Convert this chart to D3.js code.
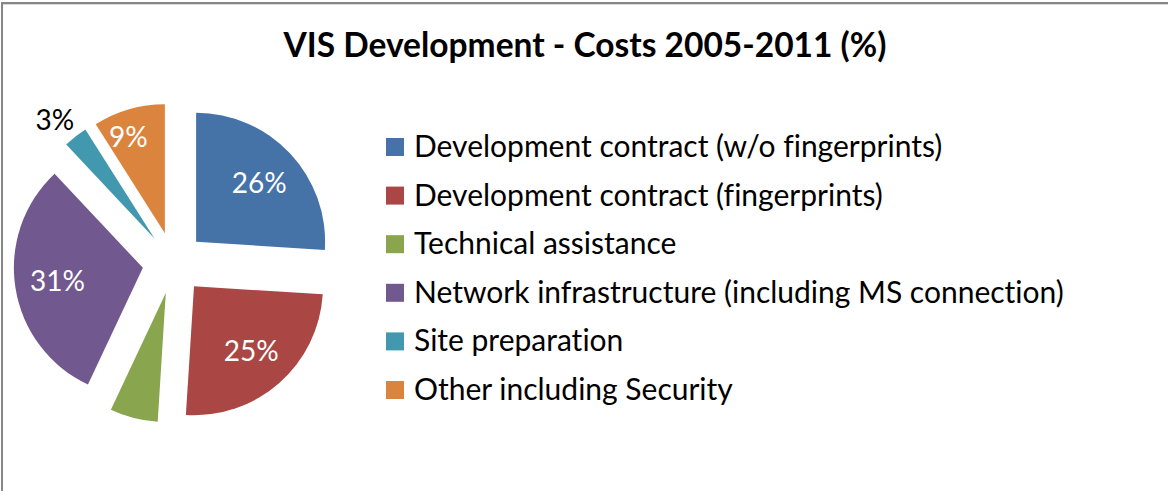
<!DOCTYPE html>
<html>
<head>
<meta charset="utf-8">
<script src="https://cdn.jsdelivr.net/npm/d3@7"></script>
<style>
  html, body { margin: 0; padding: 0; background: #fff; }
  svg { display: block; }
  text { font-variant-ligatures: none; font-feature-settings: "liga" 0, "dlig" 0; }
</style>
</head>
<body>
<svg id="chart" width="1168" height="491"></svg>
<script>
const title = "VIS Development - Costs 2005-2011 (%)";
const categories = [
  "Development contract (w/o fingerprints)",
  "Development contract (fingerprints)",
  "Technical assistance",
  "Network infrastructure (including MS connection)",
  "Site preparation",
  "Other including Security"
];
const values = [26, 25, 6, 31, 3, 9];
const shownLabels = ["26%", "25%", "", "31%", "3%", "9%"];
const colors = ["#4572A7", "#AA4643", "#89A54E", "#71588F", "#4198AF", "#DB843D"];

const svg = d3.select("#chart");
const W = 1168, H = 491;
const FONT = "Lato, 'Open Sans', sans-serif";

// frame (cropped chart area border)
svg.append("rect").attr("x", 2).attr("y", 3).attr("width", W + 10).attr("height", H + 10)
  .attr("fill", "#fff").attr("stroke", "#868686").attr("stroke-width", 2);
svg.append("line").attr("x1", 3).attr("x2", W).attr("y1", 4.5).attr("y2", 4.5)
  .attr("stroke", "#d9d9d9").attr("stroke-width", 1);

// title
svg.append("text")
  .attr("x", 585).attr("y", 57)
  .attr("text-anchor", "middle")
  .attr("font-family", FONT)
  .attr("font-weight", "bold")
  .attr("font-size", 33.5)
  .attr("fill", "#000")
  .text(title);

// pie
const cx = 173.5, cy = 263, R = 129, explode = 31;
const pie = d3.pie().sort(null).startAngle(0).endAngle(2 * Math.PI);
const arcs = pie(values);
const arc = d3.arc().innerRadius(0).outerRadius(R);

const g = svg.append("g").attr("transform", `translate(${cx},${cy})`);
const slices = g.selectAll("g.slice").data(arcs).join("g")
  .attr("class", "slice")
  .attr("transform", d => {
    const m = (d.startAngle + d.endAngle) / 2;
    return `translate(${Math.sin(m) * explode},${-Math.cos(m) * explode})`;
  });

slices.append("path")
  .attr("d", arc)
  .attr("fill", (d, i) => colors[i]);

slices.append("text")
  .attr("transform", d => {
    let m = (d.startAngle + d.endAngle) / 2;
    let f = 0.67;
    if (d.value < 5) { f = 1.2; m -= 0.04; }
    else if (d.value < 10) { f = 0.8; m -= 0.08; }
    return `translate(${Math.sin(m) * R * f},${-Math.cos(m) * R * f})`;
  })
  .attr("text-anchor", "middle")
  .attr("dy", "0.36em")
  .attr("font-family", FONT)
  .attr("font-size", 28)
  .attr("fill", d => d.value < 5 ? "#000" : "#fff")
  .text((d, i) => shownLabels[i]);

// legend
const legend = svg.append("g");
const ly = d3.scalePoint().domain(categories).range([157, 400]);
const items = legend.selectAll("g").data(categories).join("g")
  .attr("transform", d => `translate(0,${ly(d)})`);
items.append("rect")
  .attr("x", 386).attr("y", -19).attr("width", 18).attr("height", 18)
  .attr("fill", (d, i) => colors[i]);
items.append("text")
  .attr("x", 414).attr("y", 0)
  .attr("font-family", FONT)
  .attr("font-size", 30)
  .attr("fill", "#000")
  .text(d => d);
</script>
</body>
</html>
